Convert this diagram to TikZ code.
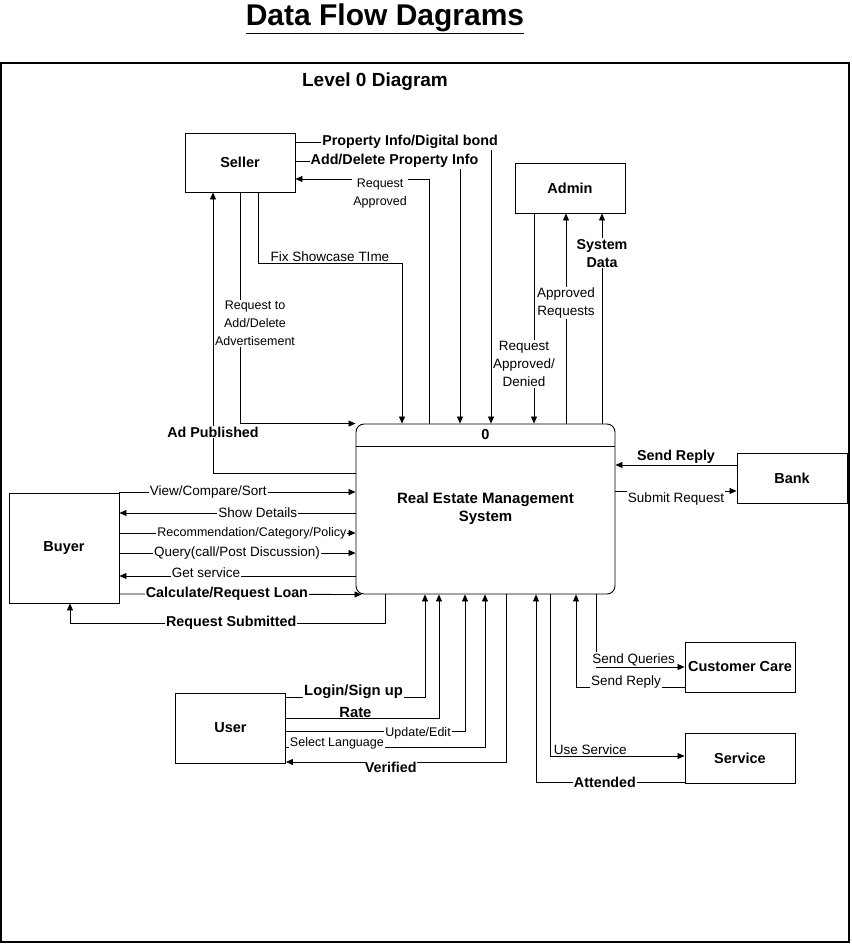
\documentclass[tikz,border=0pt]{standalone}
\usepackage{fontspec}
\setmainfont{Liberation Sans}
\usetikzlibrary{arrows.meta,calc}
\tikzset{
  entity/.style={draw, line width=0.9pt, minimum width=110, inner sep=1pt, font=\fontsize{14.5}{17}\selectfont\bfseries},
  process/.style={draw, line width=0.9pt, rounded corners=8, minimum width=259, minimum height=170, align=center, font=\fontsize{15}{18}\selectfont\bfseries},
  flow/.style={line width=0.8pt, -{Triangle[length=7pt,width=6pt]}},
  lbl/.style={fill=white, inner sep=1pt, align=center, font=\fontsize{13.5}{18}\selectfont},
  slbl/.style={lbl, font=\fontsize{12.5}{18}\selectfont},
  blbl/.style={lbl, font=\fontsize{14.3}{18}\selectfont\bfseries},
}
\begin{document}
\begin{tikzpicture}[x=1pt, y=-1pt]
\useasboundingbox (0,0) rectangle (851,944);
\draw[line width=1.2pt] (1,63) rectangle (849,942);
\node[font=\fontsize{30}{32}\selectfont\bfseries] (title) at (385,19) {\underline{Data Flow Dagrams}};
\node[font=\fontsize{19}{21}\selectfont\bfseries] (level) at (375,82) {Level 0 Diagram};

% external entities
\node[entity, minimum height=59] (seller) at (240,162.5) {Seller};
\node[entity, minimum height=50] (admin) at (570,188) {Admin};
\node[entity, minimum height=50] (bank) at (792,478) {Bank};
\node[entity, minimum height=110] (buyer) at (64,548) {Buyer};
\node[entity, minimum height=70] (user) at (230.5,728) {User};
\node[entity, minimum height=50] (care) at (740,667) {Customer Care};
\node[entity, minimum height=50] (service) at (740,758) {Service};

% the process
\node[process] (ems) at (485.5,509) {Real Estate Management\\System};
\draw[line width=0.9pt] (ems.west |- 0,446) -- (ems.east |- 0,446);
\node[font=\fontsize{14.5}{17}\selectfont\bfseries] (num) at (485.5,435) {0};

% seller
\draw[flow] (seller.east |- 0,142) -| node[blbl, pos=0.293] {Property Info/Digital bond} (ems.north -| 491,0);
\draw[flow] (seller.east |- 0,161) -| node[blbl, pos=0.301] {Add/Delete Property Info} (ems.north -| 460,0);
\draw[flow] (ems.north -| 429,0) |- node[slbl, anchor=north, yshift=2, pos=0.683] {Request\\Approved} (seller.east |- 0,179);
\draw[flow] (seller.south -| 258,0) |- node[lbl, above, pos=0.75] {Fix Showcase TIme} (402,263) -- (ems.north -| 402,0);
\draw[flow] (seller.south -| 240,0) |- node[slbl, pos=0.284, xshift=15] {Request to\\Add/Delete\\Advertisement} (ems.north west);
\draw[flow] (ems.west |- 0,473) -| node[blbl, pos=0.573] {Ad Published} (seller.south -| 213,0);

% admin
\draw[flow] (admin.south -| 534,0) -- node[lbl, pos=0.716, xshift=-10] {Request\\Approved/\\Denied} (ems.north -| 534,0);
\draw[flow] (ems.north -| 566,0) -- node[lbl, pos=0.573] {Approved\\Requests} (admin.south -| 566,0);
\draw[flow] (ems.north -| 602,0) -- node[blbl, pos=0.81] {System\\Data} (admin.south -| 602,0);

% bank
\draw[flow] (bank.west |- 0,465) -- node[blbl, above] {Send Reply} (ems.east |- 0,465);
\draw[flow] (ems.east |- 0,491) -- node[lbl, below] {Submit Request} (bank.west |- 0,491);

% buyer
\draw[flow] (buyer.east |- 0,492) -- node[lbl, pos=0.376] {View/Compare/Sort} (ems.west |- 0,492);
\draw[flow] (ems.west |- 0,513) -- node[lbl, pos=0.414] {Show Details} (buyer.east |- 0,513);
\draw[flow] (buyer.east |- 0,533) -- node[slbl, pos=0.561] {Recommendation/Category/Policy} (ems.west |- 0,533);
\draw[flow] (buyer.east |- 0,553) -- node[lbl, pos=0.498] {Query(call/Post Discussion)} (ems.west |- 0,553);
\draw[flow] (ems.west |- 0,576) -- node[lbl, pos=0.633, yshift=3] {Get service} (buyer.east |- 0,576);
\draw[flow] (buyer.east |- 0,594) -- node[blbl, pos=0.444] {Calculate/Request Loan} ($(ems.south west)+(6,0)$);
\draw[flow] (ems.south -| 385,0) |- node[blbl, pos=0.744] {Request Submitted} (70,623) -- (buyer.south -| 70,0);

% user
\draw[flow] (user.east |- 0,697) -| node[blbl, pos=0.243, yshift=5, font=\fontsize{14.8}{17}\selectfont\bfseries] {Login/Sign up} (ems.south -| 425,0);
\draw[flow] (user.east |- 0,718) -| node[blbl, pos=0.227, yshift=6, font=\fontsize{14.8}{17}\selectfont\bfseries] {Rate} (ems.south -| 439,0);
\draw[flow] (user.east |- 0,731) -| node[slbl, pos=0.369, yshift=-2] {Update/Edit} (ems.south -| 465,0);
\draw[flow] (user.east |- 0,747) -| node[slbl, pos=0.128, yshift=4] {Select Language} (ems.south -| 485,0);
\draw[flow] (ems.south -| 506,0) |- node[blbl, below, inner sep=0pt, pos=0.762] {Verified} (user.east |- 0,762);

% customer care and service
\draw[flow] (ems.south -| 596,0) |- node[lbl, above, pos=0.712] {Send Queries} (care.west |- 0,667);
\draw[flow] (care.west |- 0,687) -| node[lbl, pos=0.27, yshift=5] {Send Reply} (ems.south -| 576,0);
\draw[flow] (ems.south -| 550,0) |- node[lbl, above, pos=0.65] {Use Service} (service.west |- 0,756);
\draw[flow] (service.west |- 0,782) -| node[blbl, pos=0.268] {Attended} (ems.south -| 536,0);
\end{tikzpicture}
\end{document}
